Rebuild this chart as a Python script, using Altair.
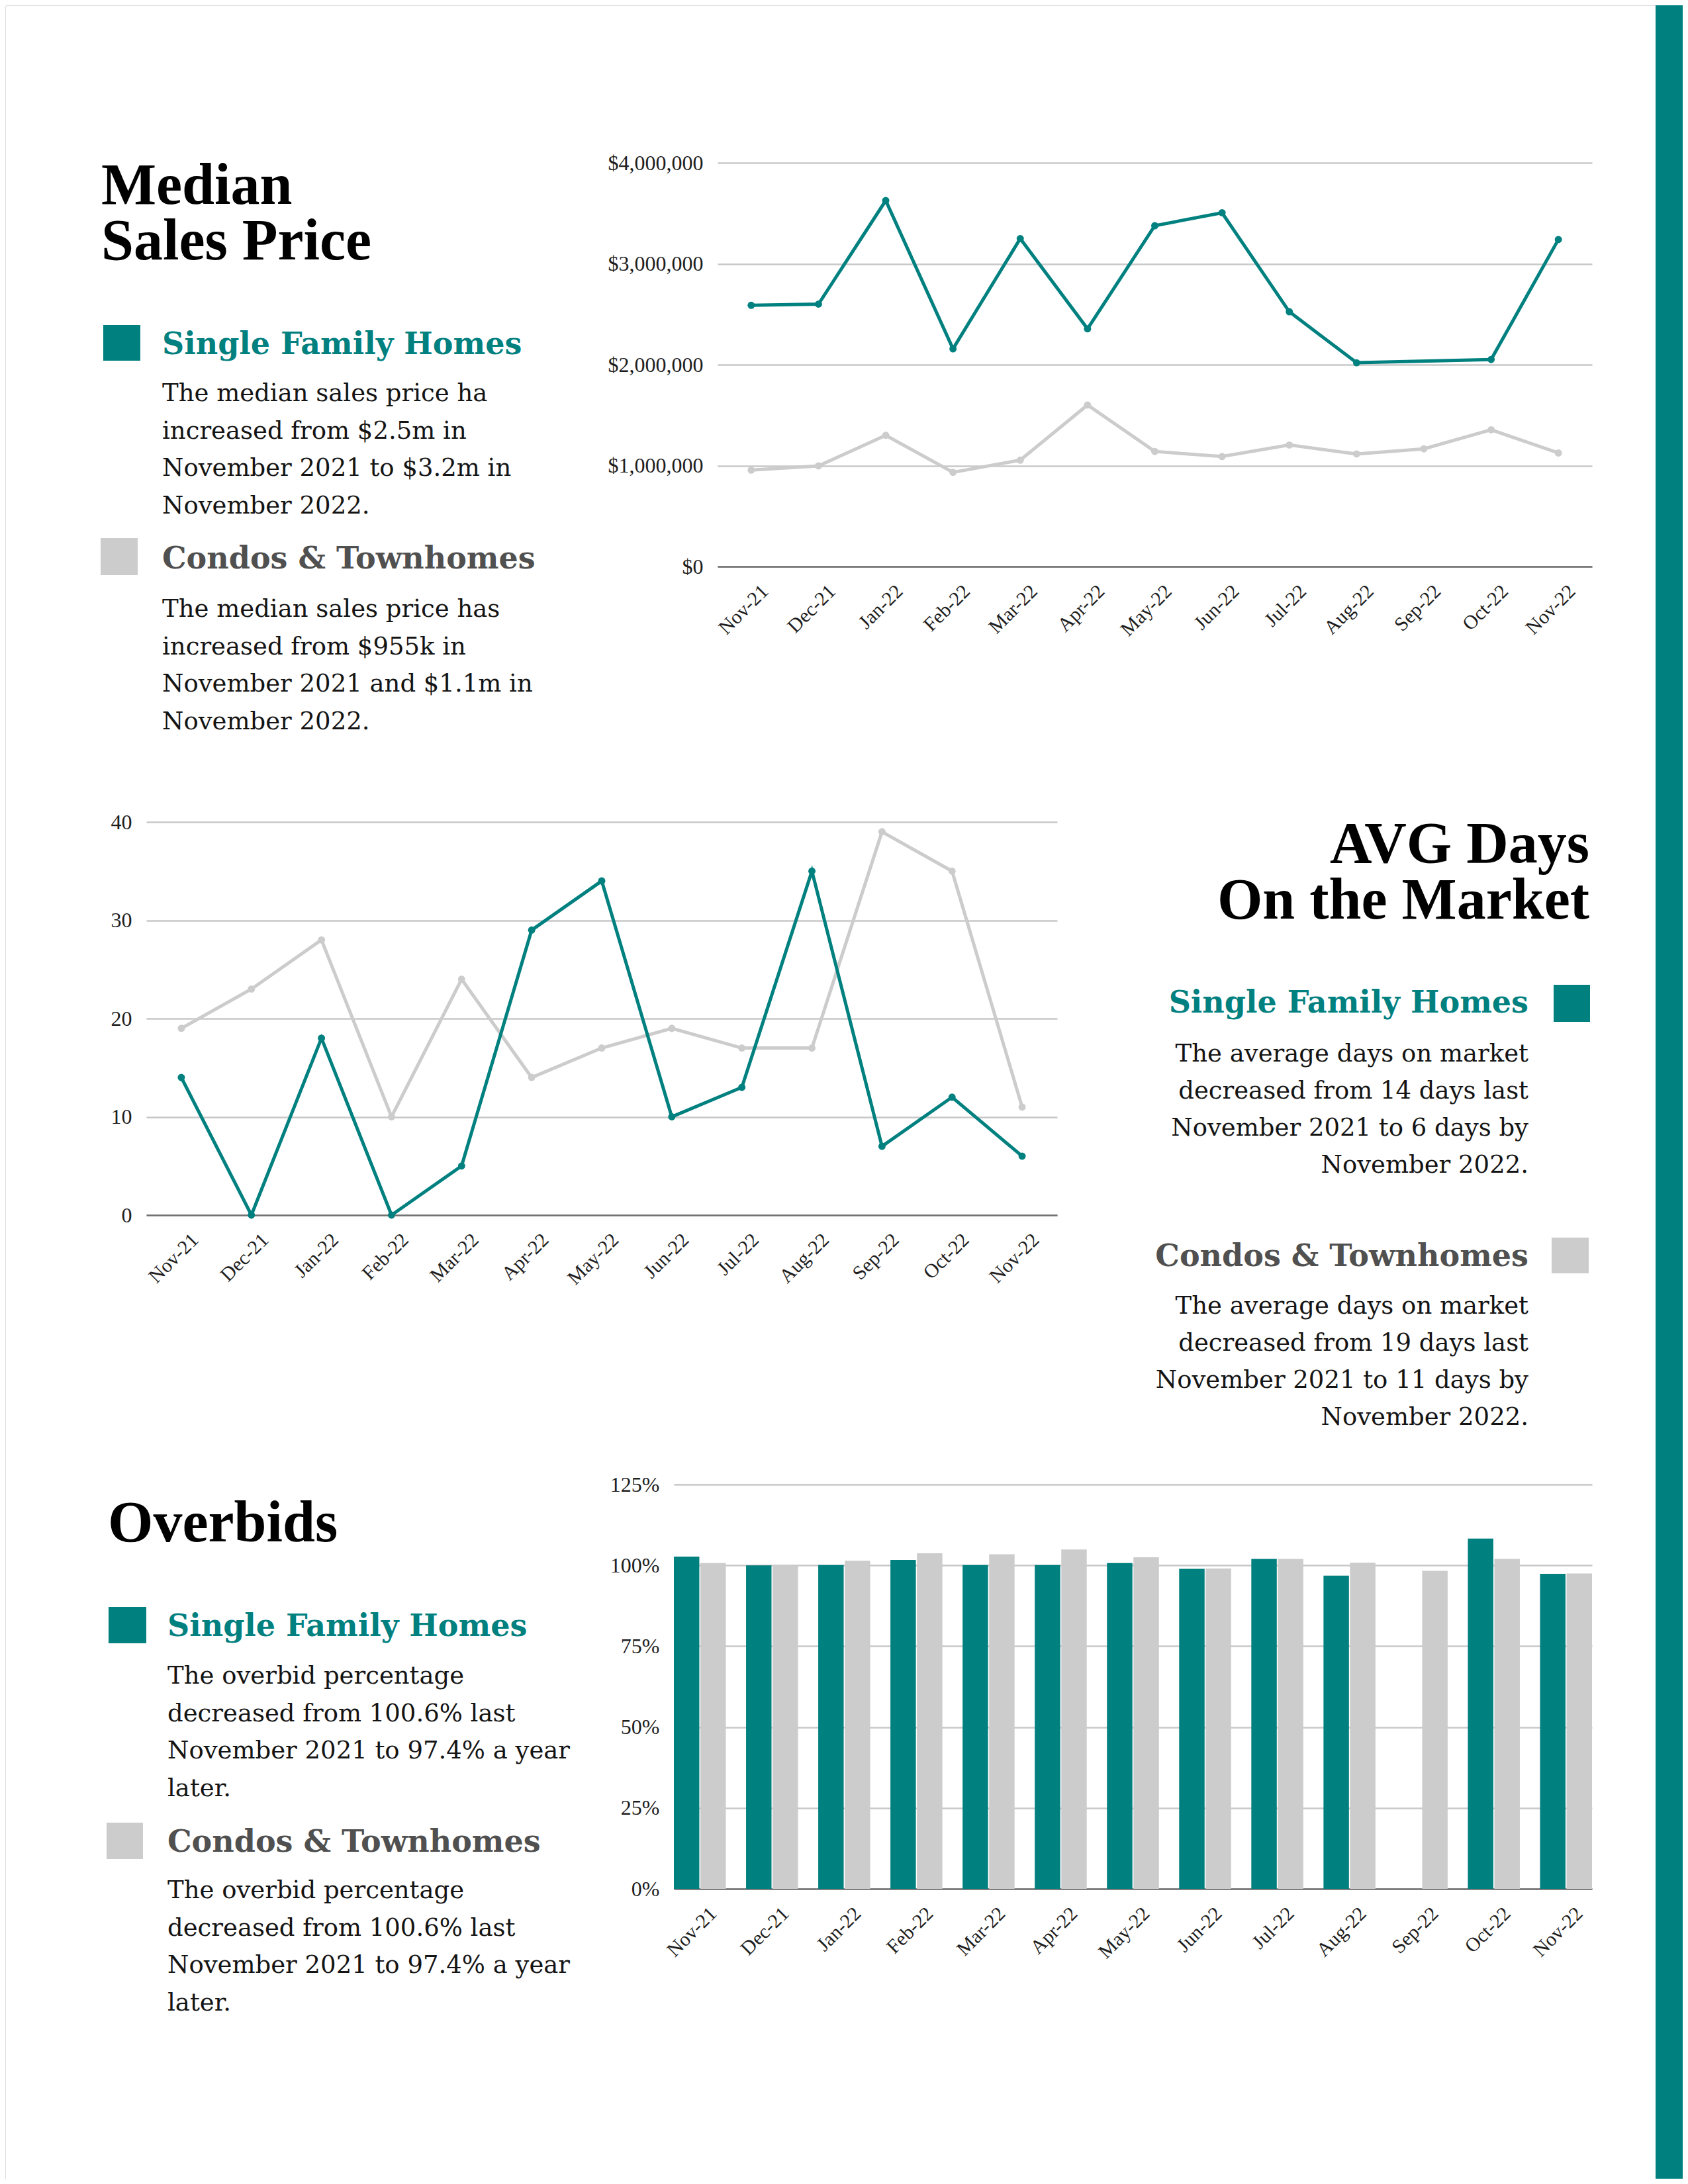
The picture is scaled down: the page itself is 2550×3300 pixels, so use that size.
import altair as alt
import pandas as pd

# ---------------- data ----------------
MONTHS = ["Nov-21", "Dec-21", "Jan-22", "Feb-22", "Mar-22", "Apr-22", "May-22",
          "Jun-22", "Jul-22", "Aug-22", "Sep-22", "Oct-22", "Nov-22"]
SERIES = ["Single Family Homes", "Condos & Townhomes"]

PRICE_SFH = [2588000, 2600000, 3626000, 2157000, 3249000, 2355000, 3377000,
             3505000, 2524000, 2019000, None, 2051000, 3240000]
PRICE_CONDO = [955000, 997000, 1300000, 933000, 1054000, 1600000, 1140000,
               1090000, 1204000, 1115000, 1166000, 1355000, 1125000]

DOM_SFH = [14, 0, 18, 0, 5, 29, 34, 10, 13, 35, 7, 12, 6]
DOM_CONDO = [19, 23, 28, 10, 24, 14, 17, 19, 17, 17, 39, 35, 11]

OVERBID_SFH = [1.027, 1.000, 1.001, 1.017, 1.001, 1.001, 1.007, 0.989, 1.020,
               0.968, None, 1.083, 0.974]
OVERBID_CONDO = [1.007, 0.999, 1.014, 1.037, 1.034, 1.049, 1.025, 0.990, 1.020,
                 1.008, 0.983, 1.020, 0.975]

PRICE_TICKS = [0, 1000000, 2000000, 3000000, 4000000]
DOM_TICKS = [0, 10, 20, 30, 40]
OVERBID_TICKS = [0, 0.25, 0.5, 0.75, 1.0, 1.25]

TITLE1 = ["Median", "Sales Price"]
SFH1 = ["The median sales price ha", "increased from $2.5m in",
        "November 2021 to $3.2m in", "November 2022."]
CONDO1 = ["The median sales price has", "increased from $955k in",
          "November 2021 and $1.1m in", "November 2022."]

TITLE2 = ["AVG Days", "On the Market"]
SFH2 = ["The average days on market", "decreased from 14 days last",
        "November 2021 to 6 days by", "November 2022.\u00a0"]
CONDO2 = ["The average days on market", "decreased from 19 days last",
          "November 2021 to 11 days by", "November 2022.\u00a0"]

TITLE3 = ["Overbids"]
SFH3 = ["The overbid percentage", "decreased from 100.6% last",
        "November 2021 to 97.4% a year", "later."]
CONDO3 = ["The overbid percentage", "decreased from 100.6% last",
          "November 2021 to 97.4% a year", "later."]

# ---------------- page geometry / styles ----------------
W, H = 2534, 3284
TEAL = "#00807f"
GREY = "#cccccc"
HEAD_GREY = "#505050"
BODY = "#141414"
TITLE_FONT = "Liberation Serif"
TEXT_FONT = "DejaVu Serif"
AXIS_FONT = "Liberation Serif"

# plot rectangles on the page: (left, right, top, bottom)
P1 = (1076, 2397, 238, 848)
P2 = (213, 1589, 1234, 1828)
P3 = (1010, 2397, 2235, 2846)


def long_df(sfh, condo):
    rows = []
    for m, v in zip(MONTHS, sfh):
        if v is not None:
            rows.append({"month": m, "series": SERIES[0], "value": v})
    for m, v in zip(MONTHS, condo):
        if v is not None:
            rows.append({"month": m, "series": SERIES[1], "value": v})
    return pd.DataFrame(rows)


def x_axis(p):
    return alt.Axis(title=None, orient="bottom", offset=-(H - p[3]),
                    labelAngle=-45, labelAlign="right", labelBaseline="top",
                    labelPadding=22, labelOffset=10, domain=True,
                    domainColor="#707070", domainWidth=2.5, ticks=False,
                    grid=False, labelFont=AXIS_FONT, labelFontSize=30,
                    labelColor="#1e1e1e")


def y_axis(p, values, fmt):
    return alt.Axis(title=None, orient="left", offset=-p[0], values=values,
                    format=fmt, domain=False, ticks=False, grid=True,
                    gridColor="#c8c8c8", gridWidth=2.5, labelFont=AXIS_FONT,
                    labelFontSize=32, labelColor="#1e1e1e", labelPadding=22)


def line_chart(df, p, ydomain, yvalues, fmt):
    base = alt.Chart(df)
    x = alt.X("month:N", scale=alt.Scale(type="point", domain=MONTHS, padding=0.5,
                                         range=[p[0], p[1]]), axis=x_axis(p))
    y = alt.Y("value:Q", scale=alt.Scale(domain=ydomain, range=[p[3], p[2]]),
              axis=y_axis(p, yvalues, fmt))
    layers = []
    for s, col in [(SERIES[1], GREY), (SERIES[0], TEAL)]:
        sub = base.transform_filter(alt.datum.series == s)
        layers.append(sub.mark_line(color=col, strokeWidth=5).encode(x=x, y=y))
        layers.append(sub.mark_circle(color=col, size=120, opacity=1).encode(x=x, y=y))
    return alt.layer(*layers)


DUMMY = alt.Data(values=[{"k": 1}])


def txt(lines, x, y, size, font, weight, color, align="left", lh=56.5):
    return alt.Chart(DUMMY).mark_text(
        text=lines, font=font, fontSize=size, fontWeight=weight, color=color,
        align=align, baseline="alphabetic", lineHeight=lh
    ).encode(x=alt.value(x), y=alt.value(y))


def box(x1, x2, y1, y2, color):
    return alt.Chart(DUMMY).mark_rect(color=color).encode(
        x=alt.value(x1), x2=alt.value(x2), y=alt.value(y1), y2=alt.value(y2))


# ---------------- charts ----------------
chart1 = line_chart(long_df(PRICE_SFH, PRICE_CONDO), P1, [0, 4000000], PRICE_TICKS, "$,.0f")
chart2 = line_chart(long_df(DOM_SFH, DOM_CONDO), P2, [0, 40], DOM_TICKS, "d")

chart3 = alt.Chart(long_df(OVERBID_SFH, OVERBID_CONDO)).mark_bar().encode(
    x=alt.X("month:N", scale=alt.Scale(domain=MONTHS, paddingInner=0.28, paddingOuter=0,
                                       range=[P3[0], P3[1]]), axis=x_axis(P3)),
    xOffset=alt.XOffset("series:N", scale=alt.Scale(domain=SERIES, paddingInner=0.04)),
    y=alt.Y("value:Q", scale=alt.Scale(domain=[0, 1.25], range=[P3[3], P3[2]]),
            axis=y_axis(P3, OVERBID_TICKS, ".0%")),
    color=alt.Color("series:N", scale=alt.Scale(domain=SERIES, range=[TEAL, GREY]), legend=None),
)

# ---------------- text blocks ----------------
decor = alt.layer(
    box(0, 1, 0, 1, "#ffffff"),
    box(2493, W, 0, H, TEAL),
    # Median Sales Price
    txt(TITLE1, 145, 300, 88, TITLE_FONT, "bold", "#000000", lh=84),
    box(148, 204, 483, 537, TEAL),
    txt(["Single Family Homes"], 237, 527, 46, TEXT_FONT, "bold", TEAL),
    txt(SFH1, 237, 598, 37, TEXT_FONT, "normal", BODY),
    box(144, 200, 805, 861, GREY),
    txt(["Condos & Townhomes"], 237, 851, 46, TEXT_FONT, "bold", HEAD_GREY),
    txt(CONDO1, 237, 924, 37, TEXT_FONT, "normal", BODY),
    # AVG Days on the Market
    txt(TITLE2, 2393, 1295, 88, TITLE_FONT, "bold", "#000000", align="right", lh=85),
    txt(["Single Family Homes"], 2301, 1522, 46, TEXT_FONT, "bold", TEAL, align="right"),
    box(2339, 2394, 1480, 1536, TEAL),
    txt(SFH2, 2301, 1596, 37, TEXT_FONT, "normal", BODY, align="right", lh=56),
    txt(["Condos & Townhomes"], 2301, 1905, 46, TEXT_FONT, "bold", HEAD_GREY, align="right"),
    box(2336, 2392, 1862, 1916, GREY),
    txt(CONDO2, 2301, 1977, 37, TEXT_FONT, "normal", BODY, align="right", lh=56),
    # Overbids
    txt(TITLE3, 155, 2321, 88, TITLE_FONT, "bold", "#000000"),
    box(156, 213, 2420, 2475, TEAL),
    txt(["Single Family Homes"], 245, 2464, 46, TEXT_FONT, "bold", TEAL),
    txt(SFH3, 245, 2536, 37, TEXT_FONT, "normal", BODY),
    box(153, 208, 2746, 2801, GREY),
    txt(["Condos & Townhomes"], 245, 2790, 46, TEXT_FONT, "bold", HEAD_GREY),
    txt(CONDO3, 245, 2860, 37, TEXT_FONT, "normal", BODY),
)

page = alt.layer(decor, chart1, chart2, chart3).resolve_scale(
    x="independent", y="independent"
).resolve_axis(
    x="independent", y="independent"
).properties(width=W, height=H, padding=0).configure_view(
    stroke="transparent", strokeWidth=0
).configure(background="white")

page.save("out.html", embed_options={"renderer": "svg", "actions": False})
